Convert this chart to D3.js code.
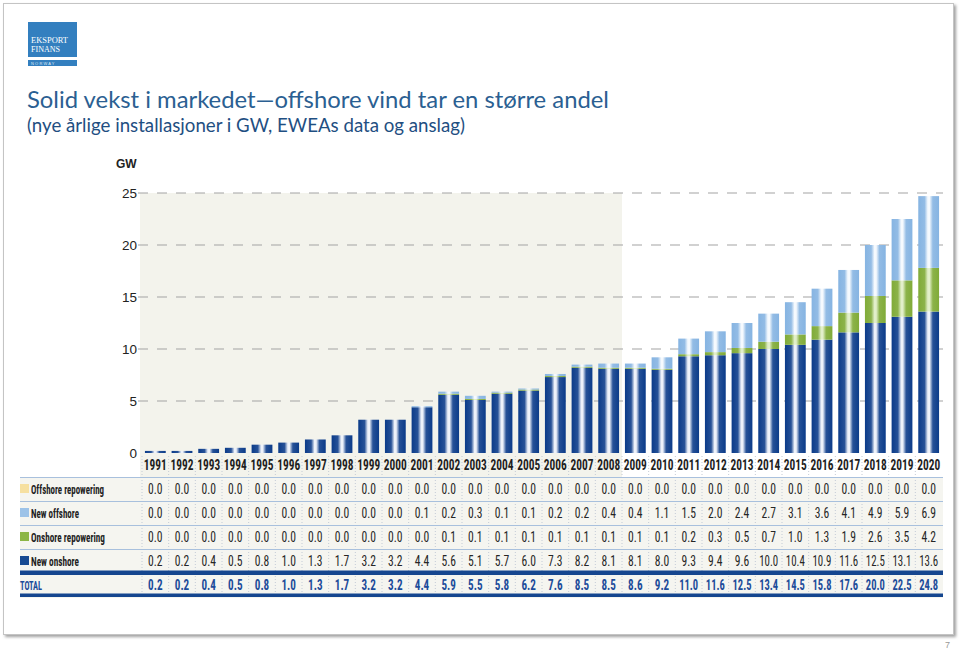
<!DOCTYPE html>
<html>
<head>
<meta charset="utf-8">
<script src="https://cdn.jsdelivr.net/npm/d3@7/dist/d3.min.js"></script>
<style>
  html, body { margin: 0; padding: 0; background: #fff; }
  svg { display: block; }
</style>
</head>
<body>
<svg id="chart" width="959" height="649"></svg>
<script>
// ---------- DATA ----------
const years = [1991,1992,1993,1994,1995,1996,1997,1998,1999,2000,2001,2002,2003,2004,2005,2006,2007,2008,2009,2010,2011,2012,2013,2014,2015,2016,2017,2018,2019,2020];
const offshoreRepowering = [0.0,0.0,0.0,0.0,0.0,0.0,0.0,0.0,0.0,0.0,0.0,0.0,0.0,0.0,0.0,0.0,0.0,0.0,0.0,0.0,0.0,0.0,0.0,0.0,0.0,0.0,0.0,0.0,0.0,0.0];
const newOffshore = [0.0,0.0,0.0,0.0,0.0,0.0,0.0,0.0,0.0,0.0,0.1,0.2,0.3,0.1,0.1,0.2,0.2,0.4,0.4,1.1,1.5,2.0,2.4,2.7,3.1,3.6,4.1,4.9,5.9,6.9];
const onshoreRepowering = [0.0,0.0,0.0,0.0,0.0,0.0,0.0,0.0,0.0,0.0,0.0,0.1,0.1,0.1,0.1,0.1,0.1,0.1,0.1,0.1,0.2,0.3,0.5,0.7,1.0,1.3,1.9,2.6,3.5,4.2];
const newOnshore = [0.2,0.2,0.4,0.5,0.8,1.0,1.3,1.7,3.2,3.2,4.4,5.6,5.1,5.7,6.0,7.3,8.2,8.1,8.1,8.0,9.3,9.4,9.6,10.0,10.4,10.9,11.6,12.5,13.1,13.6];
const totals = [0.2,0.2,0.4,0.5,0.8,1.0,1.3,1.7,3.2,3.2,4.4,5.9,5.5,5.8,6.2,7.6,8.5,8.5,8.6,9.2,11.0,11.6,12.5,13.4,14.5,15.8,17.6,20.0,22.5,24.8];
const yTicks = [0,5,10,15,20,25];
const seriesNames = ["Offshore repowering","New offshore","Onshore repowering","New onshore"];
const historyEnd = 2008;
const titleText = "Solid vekst i markedet\u2014offshore vind tar en større andel";
const subtitleText = "(nye årlige installasjoner i GW, EWEAs data og anslag)";

// ---------- SETUP ----------
const svg = d3.select("#chart");
const defs = svg.append("defs");

const colors = {
  "Offshore repowering": "#f6e0a0",
  "New offshore": "#9dc3e8",
  "Onshore repowering": "#8cb646",
  "New onshore": "#174a92"
};
const grads = {
  "Offshore repowering": ["#efd58c", "#fffaf0"],
  "New offshore": ["#86b4e2", "#f6fafe"],
  "Onshore repowering": ["#80ab38", "#e2efca"],
  "New onshore": ["#0b3b89", "#eef2fa"]
};
Object.entries(grads).forEach(([k, [edge, mid]], i) => {
  const g = defs.append("linearGradient").attr("id", "g" + i)
    .attr("x1", "0").attr("x2", "1").attr("y1", "0").attr("y2", "0");
  const mix = d3.interpolateRgb(edge, mid);
  g.append("stop").attr("offset", "0%").attr("stop-color", edge);
  g.append("stop").attr("offset", "30%").attr("stop-color", mix(0.12));
  g.append("stop").attr("offset", "46%").attr("stop-color", mid);
  g.append("stop").attr("offset", "54%").attr("stop-color", mid);
  g.append("stop").attr("offset", "70%").attr("stop-color", mix(0.12));
  g.append("stop").attr("offset", "100%").attr("stop-color", edge);
});
const gradId = {};
Object.keys(grads).forEach((k, i) => gradId[k] = "url(#g" + i + ")");

// shadow filter for slide frame
const f = defs.append("filter").attr("id", "shadow").attr("x", "-5%").attr("y", "-5%").attr("width", "110%").attr("height", "110%");
f.append("feDropShadow").attr("dx", 2).attr("dy", 2).attr("stdDeviation", 1.5).attr("flood-color", "#777").attr("flood-opacity", 0.7);

// slide frame
svg.append("rect").attr("x", 3.5).attr("y", 3.5).attr("width", 950).attr("height", 631)
  .attr("fill", "#fff").attr("stroke", "#c4c4c4").attr("stroke-width", 1).attr("filter", "url(#shadow)");

// page number
svg.append("text").attr("x", 950).attr("y", 648).attr("text-anchor", "end")
  .attr("font-family", "Liberation Sans, Arial, sans-serif").attr("font-size", 9).attr("fill", "#999").text("7");

// logo
const logo = svg.append("g");
logo.append("rect").attr("x", 28).attr("y", 22).attr("width", 49).attr("height", 35).attr("fill", "#337fbf");
logo.append("rect").attr("x", 28).attr("y", 60).attr("width", 49).attr("height", 6).attr("fill", "#337fbf");
logo.append("text").attr("x", 31).attr("y", 43).attr("font-family", "Liberation Serif, Times New Roman, serif")
  .attr("font-size", 8.5).attr("fill", "#fff").attr("textLength", 37).attr("lengthAdjust", "spacingAndGlyphs").text("EKSPORT");
logo.append("text").attr("x", 31).attr("y", 52).attr("font-family", "Liberation Serif, Times New Roman, serif")
  .attr("font-size", 8.5).attr("fill", "#fff").attr("textLength", 29).attr("lengthAdjust", "spacingAndGlyphs").text("FINANS");
logo.append("text").attr("x", 31).attr("y", 65).attr("font-family", "Liberation Sans, Arial, sans-serif")
  .attr("font-size", 4).attr("letter-spacing", 1.2).attr("fill", "#dfeaf5").text("NORWAY");

// titles
svg.append("text").attr("x", 27).attr("y", 108)
  .attr("font-family", "Lato, 'Open Sans', sans-serif").attr("font-size", 24)
  .attr("fill", "#2b5f92").attr("textLength", 582).attr("lengthAdjust", "spacingAndGlyphs").text(titleText);
svg.append("text").attr("x", 27).attr("y", 132)
  .attr("font-family", "Lato, 'Open Sans', sans-serif").attr("font-size", 18.5)
  .attr("fill", "#1f4f82").attr("textLength", 438).attr("lengthAdjust", "spacingAndGlyphs").text(subtitleText);

// ---------- SCALES ----------
const x = d3.scaleBand().domain(years).range([142, 942]).paddingInner(0.22).paddingOuter(0.11);
const y = d3.scaleLinear().domain([0, 25]).range([453, 193]);
const step = x.step();
const colLeft = d => x(d) - x.paddingOuter() * step;

// background panels
const histLast = colLeft(historyEnd) + step;
svg.append("rect").attr("x", 140).attr("y", y(25)).attr("width", histLast - 140).attr("height", 477 - y(25)).attr("fill", "#f3f3ec");
svg.append("rect").attr("x", 20).attr("y", 477).attr("width", 923).attr("height", 121).attr("fill", "#f5f5f0");

// gridlines
const grid = svg.append("g");
yTicks.filter(t => t > 0).forEach(t => {
  grid.append("line").attr("x1", 138).attr("x2", 943).attr("y1", y(t)).attr("y2", y(t))
    .attr("stroke", "#a3a3a3").attr("stroke-width", 1).attr("stroke-dasharray", "10,9");
});

// y axis via d3
const yAxis = d3.axisLeft(y).tickValues(yTicks).tickSize(0).tickPadding(0).tickFormat(d3.format("d"));
const ya = svg.append("g").attr("transform", "translate(137,0)").call(yAxis);
ya.select(".domain").remove();
ya.selectAll("text").attr("font-family", "Liberation Sans, Arial, sans-serif").attr("font-size", 13.5).attr("fill", "#222").attr("dy", "0.32em");

svg.append("text").attr("x", 116).attr("y", 168).attr("font-family", "Liberation Sans, Arial, sans-serif")
  .attr("font-weight", "bold").attr("font-size", 12).attr("fill", "#222").text("GW");

// ---------- BARS ----------
const rows = years.map((yr, i) => ({
  year: yr,
  "New onshore": newOnshore[i],
  "Onshore repowering": onshoreRepowering[i],
  "New offshore": newOffshore[i],
  "Offshore repowering": offshoreRepowering[i]
}));
const stackKeys = ["New onshore", "Onshore repowering", "New offshore", "Offshore repowering"];
const stacked = d3.stack().keys(stackKeys)(rows);
const barG = svg.append("g");
stacked.forEach(layer => {
  barG.append("g").attr("fill", gradId[layer.key])
    .selectAll("rect").data(layer).join("rect")
    .attr("x", d => x(d.data.year))
    .attr("width", x.bandwidth())
    .attr("y", d => y(d[1]))
    .attr("height", d => Math.max(0, y(d[0]) - y(d[1])));
});

// ---------- TABLE ----------
const tableFont = "'Liberation Sans Narrow', 'Roboto Condensed', 'DejaVu Sans Condensed', 'Arial Narrow', sans-serif";
const yearRowY = 470;
const rowYs = [489, 513, 537, 561, 585.5];
const tableRows = [
  { name: seriesNames[0], vals: offshoreRepowering },
  { name: seriesNames[1], vals: newOffshore },
  { name: seriesNames[2], vals: onshoreRepowering },
  { name: seriesNames[3], vals: newOnshore },
  { name: "TOTAL", vals: totals }
];

// column separators (dotted)
const sepG = svg.append("g");
years.forEach((yr, i) => {
  const xx = 142 + i * step;
  sepG.append("line").attr("x1", xx).attr("x2", xx).attr("y1", 456).attr("y2", 596)
    .attr("stroke", "#c3cbd6").attr("stroke-width", 1).attr("stroke-dasharray", "1,2");
});

// horizontal rules
[477.5, 501.5, 525.5, 549.5].forEach(ly => {
  svg.append("line").attr("x1", 20).attr("x2", 943).attr("y1", ly).attr("y2", ly)
    .attr("stroke", "#a8c0dd").attr("stroke-width", 1.2);
});
svg.append("rect").attr("x", 20).attr("y", 570.5).attr("width", 923).attr("height", 4.5).attr("fill", "#15468f");
svg.append("rect").attr("x", 20).attr("y", 593.5).attr("width", 923).attr("height", 3.5).attr("fill", "#15468f");

// year labels via band axis
const xAxis = d3.axisBottom(x).tickSize(0).tickPadding(0);
const xa = svg.append("g").attr("transform", `translate(0,${yearRowY})`).call(xAxis);
xa.select(".domain").remove();
xa.selectAll("text").attr("font-family", tableFont).attr("font-stretch", "condensed")
  .attr("font-weight", "bold").attr("font-size", 14).attr("fill", "#1e1e1e").attr("dy", "0")
  .attr("textLength", 23).attr("lengthAdjust", "spacingAndGlyphs");

// values
const fmt = d3.format(".1f");
tableRows.forEach((r, ri) => {
  const isTotal = r.name === "TOTAL";
  svg.append("g").selectAll("text").data(r.vals).join("text")
    .attr("x", (d, i) => x(years[i]) + x.bandwidth() / 2)
    .attr("y", rowYs[ri] + 4.5)
    .attr("text-anchor", "middle")
    .attr("font-family", tableFont).attr("font-stretch", "condensed")
    .attr("font-weight", isTotal ? "bold" : "normal")
    .attr("font-size", 14)
    .attr("fill", isTotal ? "#1d4c9a" : "#262626")
    .attr("textLength", d => fmt(d).length === 3 ? 14.5 : 19)
    .attr("lengthAdjust", "spacingAndGlyphs")
    .text(d => fmt(d));
  // label
  if (isTotal) {
    svg.append("text").attr("x", 20).attr("y", rowYs[ri] + 4.5)
      .attr("font-family", tableFont).attr("font-stretch", "condensed").attr("font-weight", "bold")
      .attr("font-size", 12.5).attr("fill", "#1d4c9a").attr("textLength", 22).attr("lengthAdjust", "spacingAndGlyphs").text("TOTAL");
  } else {
    svg.append("rect").attr("x", 20).attr("y", rowYs[ri] - 5).attr("width", 9).attr("height", 9).attr("fill", colors[r.name]);
    svg.append("text").attr("x", 31).attr("y", rowYs[ri] + 5)
      .attr("font-family", tableFont).attr("font-stretch", "condensed").attr("font-weight", "bold")
      .attr("font-size", 13.5).attr("fill", "#1e1e1e")
      .attr("textLength", [73, 48, 74, 48][ri]).attr("lengthAdjust", "spacingAndGlyphs")
      .text(r.name);
  }
});
</script>
</body>
</html>
